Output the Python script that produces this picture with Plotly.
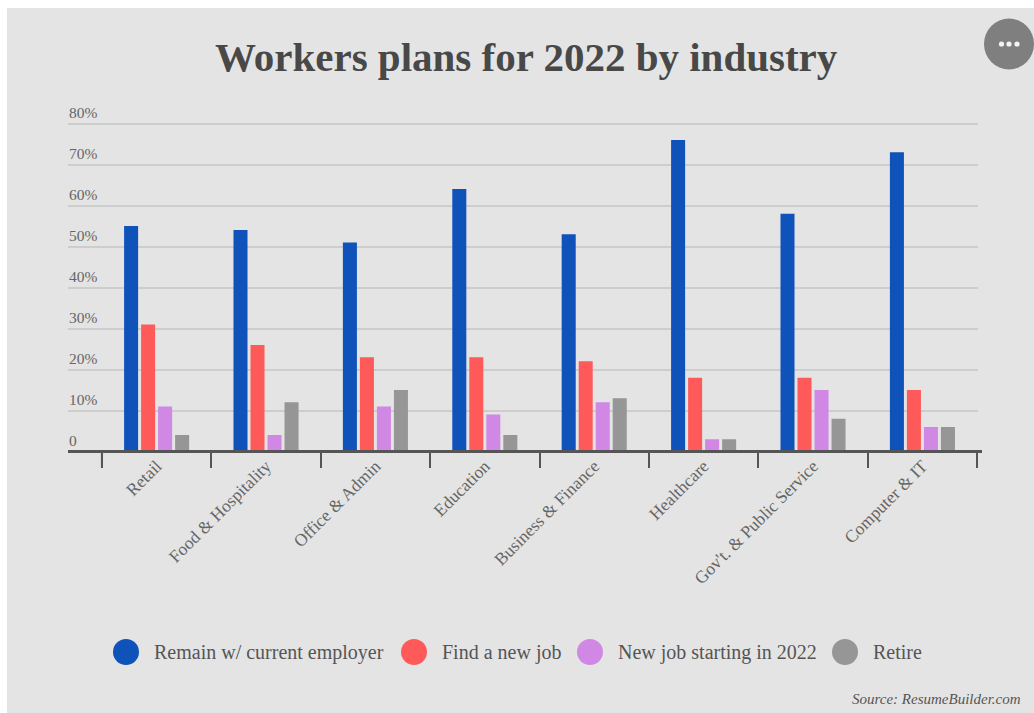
import plotly.graph_objects as go

W, H = 1034, 713

industries = ["Retail", "Food &amp; Hospitality", "Office &amp; Admin", "Education",
              "Business &amp; Finance", "Healthcare", "Gov't. &amp; Public Service", "Computer &amp; IT"]
remain = [55, 54, 51, 64, 53, 76, 58, 73]
find_new = [31, 26, 23, 23, 22, 18, 18, 15]
starting_2022 = [11, 4, 11, 9, 12, 3, 15, 6]
retire = [4, 12, 15, 4, 13, 3, 8, 6]

series_names = ["Remain w/ current employer", "Find a new job", "New job starting in 2022", "Retire"]
series_values = [remain, find_new, starting_2022, retire]
series_colors = ["#0f52ba", "#ff5a5a", "#d088e4", "#969696"]

y_ticks = [0, 10, 20, 30, 40, 50, 60, 70, 80]
y_tick_labels = ["0", "10%", "20%", "30%", "40%", "50%", "60%", "70%", "80%"]

SERIF = "Liberation Serif"
INK = "#555555"
BASELINE = 451.5


def fx(px):
    return px / W


def fy(px):
    return 1 - px / H


fig = go.Figure()
for name, values, color in zip(series_names, series_values, series_colors):
    fig.add_bar(name=name, x=industries, y=values, marker=dict(color=color, line_width=0),
                showlegend=False)

shapes = [
    # chart panel
    dict(type="rect", xref="paper", yref="paper", x0=fx(7), x1=fx(W + 2), y0=fy(H + 2), y1=fy(8),
         fillcolor="#e4e4e4", line_width=0, layer="below"),
    # menu button
    dict(type="circle", xref="paper", yref="paper", x0=fx(984), x1=fx(1034), y0=fy(69.5), y1=fy(18.5),
         fillcolor="#7f7f7f", line_width=0),
    # baseline runs a little past the gridlines
    dict(type="line", xref="paper", yref="paper", x0=fx(68), x1=fx(982), y0=fy(BASELINE), y1=fy(BASELINE),
         line=dict(color=INK, width=3)),
    # leading boundary tick, which the category axis leaves out
    dict(type="line", xref="x", yref="paper", x0=-0.5, x1=-0.5, y0=fy(BASELINE), y1=fy(BASELINE + 15),
         line=dict(color=INK, width=2)),
]
for cx in (1001.5, 1009, 1017):
    shapes.append(dict(type="circle", xref="paper", yref="paper", x0=fx(cx - 2.6), x1=fx(cx + 2.6),
                       y0=fy(46.6), y1=fy(41.4), fillcolor="#f4f4f4", line_width=0))

annotations = [
    dict(text="<b>Workers plans for 2022 by industry</b>", x=fx(526), y=fy(57), xref="paper", yref="paper",
         showarrow=False, xanchor="center", yanchor="middle",
         font=dict(family=SERIF, size=41, color="#484848")),
    dict(text="<i>Source: ResumeBuilder.com</i>", x=fx(1023), y=fy(699), xref="paper", yref="paper",
         showarrow=False, xanchor="right", yanchor="middle",
         font=dict(family=SERIF, size=15, color="#555555")),
]

# hand-placed legend so the swatches can be large circles
legend_swatch_x = [126, 414, 590, 845]
for name, color, cx in zip(series_names, series_colors, legend_swatch_x):
    shapes.append(dict(type="circle", xref="paper", yref="paper", x0=fx(cx - 13), x1=fx(cx + 13),
                       y0=fy(665), y1=fy(639), fillcolor=color, line_width=0))
    annotations.append(dict(text=name, x=fx(cx + 26), y=fy(652), xref="paper", yref="paper",
                            showarrow=False, xanchor="left", yanchor="middle",
                            font=dict(family=SERIF, size=20, color="#555555")))

fig.update_layout(
    width=W, height=H, autosize=False,
    margin=dict(l=0, r=0, t=0, b=0),
    paper_bgcolor="white", plot_bgcolor="rgba(0,0,0,0)",
    barmode="group", bargap=0.378, bargroupgap=0.176,
    shapes=shapes, annotations=annotations,
    xaxis=dict(domain=[fx(68), fx(978)], type="category", range=[-0.81, 7.508],
               tickson="boundaries", ticks="outside", ticklen=15, tickwidth=2, tickcolor=INK,
               showline=False, showgrid=False, tickangle=-45,
               tickfont=dict(family=SERIF, size=17.5, color="#666666"), automargin=False),
    yaxis=dict(domain=[fy(BASELINE), fy(BASELINE - 4.1 * 86)], range=[0, 86], tickmode="array",
               tickvals=y_ticks, ticktext=y_tick_labels, ticklabelposition="inside",
               ticklabelshift=-11, ticklabelstandoff=-2, ticks="", showline=False, zeroline=False,
               gridcolor="#cdcdcd", gridwidth=1.5,
               tickfont=dict(family=SERIF, size=15.5, color="#666666"), automargin=False),
)

fig.write_html("out.html", config=dict(displayModeBar=False))
